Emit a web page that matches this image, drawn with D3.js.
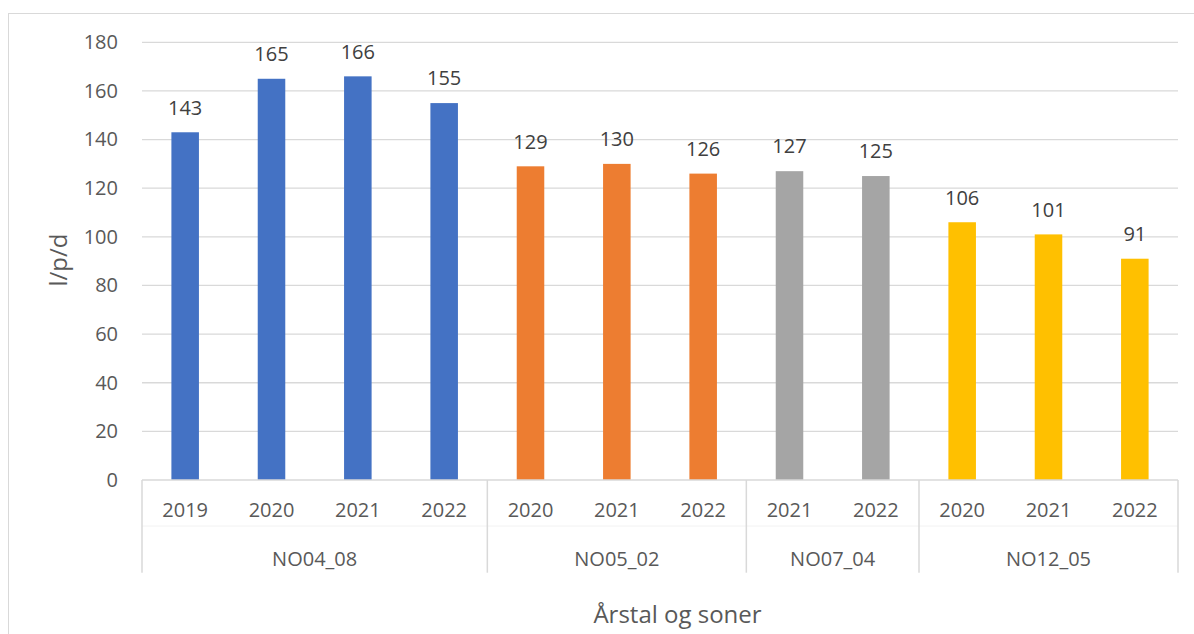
<!DOCTYPE html>
<html>
<head>
<meta charset="utf-8">
<script src="https://cdn.jsdelivr.net/npm/d3@7"></script>
<style>
  html, body { margin: 0; padding: 0; background: #fff; }
  svg { display: block; font-family: "Open Sans", sans-serif; }
</style>
</head>
<body>
<svg id="chart" width="1194" height="634"></svg>
<script>
// Water consumption per person per day, by zone and year
const zones = ["NO04_08", "NO05_02", "NO07_04", "NO12_05"];
const zoneYears = [
  ["2019", "2020", "2021", "2022"],
  ["2020", "2021", "2022"],
  ["2021", "2022"],
  ["2020", "2021", "2022"]
];
const zoneValues = [
  [143, 165, 166, 155],
  [129, 130, 126],
  [127, 125],
  [106, 101, 91]
];
const zoneColors = ["#4472C4", "#ED7D31", "#A5A5A5", "#FFC000"];
const yTicks = [0, 20, 40, 60, 80, 100, 120, 140, 160, 180];
const yTitle = "l/p/d";
const xTitle = "Årstal og soner";

// Flatten into one row per bar
const rows = [];
zones.forEach((z, zi) => {
  zoneYears[zi].forEach((yr, i) => {
    rows.push({ zone: z, zi, year: yr, value: zoneValues[zi][i], key: z + "|" + yr });
  });
});

const svg = d3.select("#chart");
const textColor = "#595959";
const lineColor = "#D9D9D9";

const plot = { left: 142, right: 1178, top: 42.3, bottom: 480 };

const x = d3.scaleBand()
  .domain(rows.map(r => r.key))
  .range([plot.left, plot.right])
  .paddingInner(0.681)
  .paddingOuter(0.3405);

const y = d3.scaleLinear()
  .domain([0, 180])
  .range([plot.bottom, plot.top]);

// Chart border
svg.append("rect")
  .attr("x", 8.5).attr("y", 13.5)
  .attr("width", 1200).attr("height", 700)
  .attr("fill", "none")
  .attr("stroke", lineColor)
  .attr("stroke-width", 1);

// Horizontal gridlines
svg.append("g")
  .selectAll("line")
  .data(yTicks.filter(t => t > 0))
  .join("line")
  .attr("x1", plot.left).attr("x2", plot.right)
  .attr("y1", d => y(d)).attr("y2", d => y(d))
  .attr("stroke", lineColor)
  .attr("stroke-width", 1.3);

// Y axis tick labels
const yAxis = d3.axisLeft(y).tickValues(yTicks).tickSize(0).tickPadding(24);
const gy = svg.append("g")
  .attr("transform", `translate(${plot.left},0)`)
  .call(yAxis);
gy.select(".domain").remove();
gy.selectAll("text")
  .attr("fill", textColor)
  .style("font-size", "20px")
  .style("font-family", "'Open Sans', sans-serif");

// Bars
svg.append("g")
  .selectAll("rect")
  .data(rows)
  .join("rect")
  .attr("x", d => x(d.key))
  .attr("width", x.bandwidth())
  .attr("y", d => y(d.value))
  .attr("height", d => y(0) - y(d.value))
  .attr("fill", d => zoneColors[d.zi]);

// Value labels
svg.append("g")
  .selectAll("text")
  .data(rows)
  .join("text")
  .attr("x", d => x(d.key) + x.bandwidth() / 2)
  .attr("y", d => y(d.value) - 17.7)
  .attr("text-anchor", "middle")
  .attr("fill", "#404040")
  .style("font-size", "20px")
  .text(d => d.value);

// Category axis line
svg.append("line")
  .attr("x1", plot.left).attr("x2", plot.right)
  .attr("y1", plot.bottom).attr("y2", plot.bottom)
  .attr("stroke", lineColor)
  .attr("stroke-width", 1.5);

// Faint divider between year row and zone row
svg.append("line")
  .attr("x1", plot.left).attr("x2", plot.right)
  .attr("y1", 526).attr("y2", 526)
  .attr("stroke", "#F2F2F2")
  .attr("stroke-width", 1);

// Year labels
svg.append("g")
  .selectAll("text")
  .data(rows)
  .join("text")
  .attr("x", d => x(d.key) + x.bandwidth() / 2)
  .attr("y", 517)
  .attr("text-anchor", "middle")
  .attr("fill", textColor)
  .style("font-size", "20px")
  .text(d => d.year);

// Zone group extents and separators
const step = x.step();
const groups = zones.map((z, zi) => {
  const keys = rows.filter(r => r.zi === zi).map(r => r.key);
  const x0 = x(keys[0]) + x.bandwidth() / 2 - step / 2;
  const x1 = x(keys[keys.length - 1]) + x.bandwidth() / 2 + step / 2;
  return { zone: z, x0, x1 };
});
const seps = [groups[0].x0].concat(groups.map(g => g.x1));
svg.append("g")
  .selectAll("line")
  .data(seps)
  .join("line")
  .attr("x1", d => d).attr("x2", d => d)
  .attr("y1", plot.bottom).attr("y2", 572.7)
  .attr("stroke", lineColor)
  .attr("stroke-width", 1.5);

svg.append("g")
  .selectAll("text")
  .data(groups)
  .join("text")
  .attr("x", d => (d.x0 + d.x1) / 2)
  .attr("y", 566)
  .attr("text-anchor", "middle")
  .attr("fill", textColor)
  .style("font-size", "20px")
  .text(d => d.zone);

// Axis titles
svg.append("text")
  .attr("x", 677.5)
  .attr("y", 622.5)
  .attr("text-anchor", "middle")
  .attr("fill", textColor)
  .style("font-size", "24px")
  .text(xTitle);

svg.append("text")
  .attr("transform", "translate(67,260) rotate(-90)")
  .attr("text-anchor", "middle")
  .attr("fill", textColor)
  .style("font-size", "24px")
  .text(yTitle);
</script>
</body>
</html>
